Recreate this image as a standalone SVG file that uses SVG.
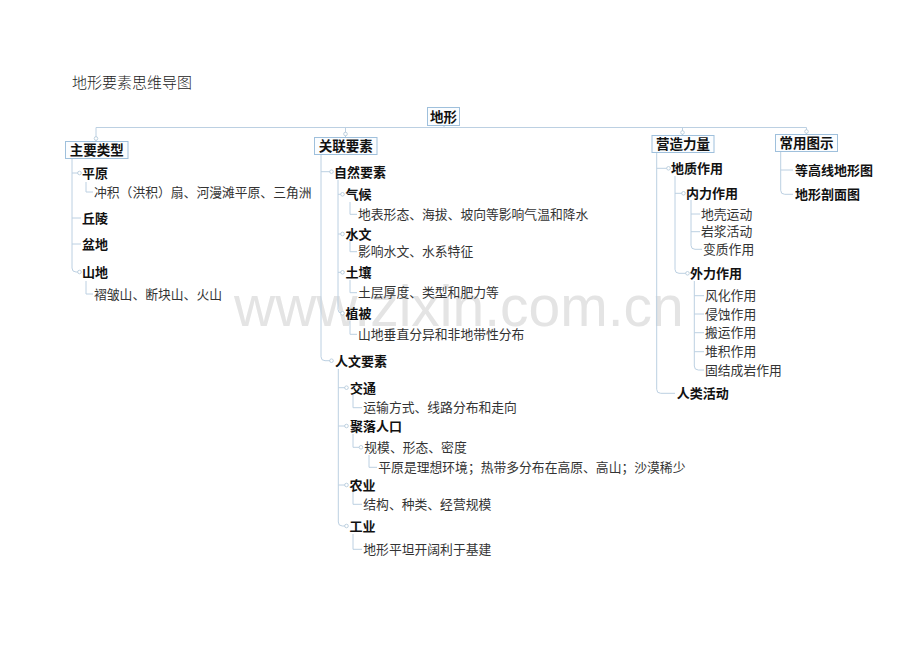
<svg xmlns="http://www.w3.org/2000/svg" width="920" height="652" viewBox="0 0 920 652">
<style>
text{font-family:"Noto Sans CJK SC","Noto Sans",sans-serif;}
.t{font-size:15px;font-weight:300;fill:#222;}
.wm{font-family:"Liberation Sans",Arial,sans-serif;font-size:57px;fill:#e4e4e4;}
.bx{fill:#fbfdff;stroke:#9fc0dc;stroke-width:1;}
.bl{font-size:13.5px;font-weight:bold;fill:#111;text-anchor:middle;}
.b{font-size:13px;font-weight:bold;fill:#111;}
.r{font-size:12.8px;fill:#333;}
.c path,.c line{fill:none;stroke:#bcd0e2;stroke-width:1;}
.c circle{fill:#fff;stroke:#b0c6d8;stroke-width:0.8;}
</style>
<rect width="920" height="652" fill="#fff"/>
<text class="wm" x="234" y="326">www.zixin.com.cn</text>
<text class="t" x="72" y="88">地形要素思维导图</text>

<g id="connectors" class="c">
<!-- main -->
<path d="M444,125.5V127.5M96,127.5H806.5"/>
<path d="M96,127.5V141M345.5,127.5V137M682.5,127.5V135M806.5,127.5V134"/>
<circle cx="96" cy="138.5" r="1.8"/>
<circle cx="345.5" cy="134" r="1.8"/>
<circle cx="682.5" cy="132.5" r="1.8"/>
<circle cx="806.5" cy="131.5" r="1.8"/>
<!-- branch 1 -->
<path d="M72,158.5V268Q72,272 76,272H79"/>
<path d="M72,173H78M72,218H81M72,244H81"/>
<circle cx="79.5" cy="173" r="1.8"/>
<circle cx="79.5" cy="272" r="1.8"/>
<path d="M86,182V192H93M86,281V294H93"/>
<!-- branch 2 -->
<path d="M321,154.5V356.7Q321,360.7 325,360.7H330"/>
<path d="M321,171.7H330"/>
<circle cx="331.5" cy="171.7" r="1.8"/>
<circle cx="331.5" cy="360.7" r="1.8"/>
<path d="M338,180V309.3Q338,313.3 342,313.3"/>
<path d="M338,194.3H341M338,234H341M338,272.3H341"/>
<circle cx="342.5" cy="194.3" r="1.8"/>
<circle cx="342.5" cy="234" r="1.8"/>
<circle cx="342.5" cy="272.3" r="1.8"/>
<circle cx="342.5" cy="313.3" r="1.8"/>
<path d="M350,202V214.3H357M350,241V251.7H357M350,280V292.7H357M350,321V334.3H357"/>
<path d="M338.3,369V522Q338.3,526 342.3,526H345"/>
<path d="M338.3,387.7H345M338.3,426H345M338.3,485H345"/>
<circle cx="346.5" cy="387.7" r="1.8"/>
<circle cx="346.5" cy="426" r="1.8"/>
<circle cx="346.5" cy="485" r="1.8"/>
<circle cx="346.5" cy="526" r="1.8"/>
<path d="M353,395V407.7H362M353,434V447.3H359M369,455V467.3H377M353,492V504.3H362M353,534V549.3H362"/>
<circle cx="361" cy="447.3" r="1.8"/>
<!-- branch 3 -->
<path d="M656.7,152.5V389.3Q656.7,393.3 660.7,393.3H675"/>
<path d="M656.7,168.3H667"/>
<circle cx="668.5" cy="168.3" r="1.8"/>
<path d="M675,176V269.3Q675,273.3 679,273.3H686"/>
<path d="M675,193.3H682"/>
<circle cx="683.5" cy="193.3" r="1.8"/>
<circle cx="687.5" cy="273.3" r="1.8"/>
<path d="M691,200V245.3Q691,249.3 695,249.3H702M691,214H700M691,231.7H700"/>
<path d="M694.3,281V366Q694.3,370 698.3,370H704M694.3,295.7H704M694.3,314H704M694.3,332.7H704M694.3,351.7H704"/>
<!-- branch 4 -->
<path d="M780.7,151.5V190.3Q780.7,194.3 784.7,194.3H793M780.7,170H793"/>
</g>

<g id="root"><rect class="bx" x="427.5" y="107.5" width="32" height="18"/><text class="bl" x="443.5" y="121.5">地形</text></g>

<g id="n-zhuyao"><rect class="bx" x="65.5" y="141.5" width="62.5" height="17"/><text class="bl" x="96.8" y="155">主要类型</text></g>
<g id="n-pingyuan"><text class="b" x="82" y="178">平原</text></g>
<g id="n-pingyuan-d"><text class="r" x="94" y="196.5">冲积（洪积）扇、河漫滩平原、三角洲</text></g>
<g id="n-qiuling"><text class="b" x="82" y="223">丘陵</text></g>
<g id="n-pendi"><text class="b" x="82" y="249">盆地</text></g>
<g id="n-shandi"><text class="b" x="82" y="277">山地</text></g>
<g id="n-shandi-d"><text class="r" x="94" y="298.5">褶皱山、断块山、火山</text></g>

<g id="n-guanlian"><rect class="bx" x="314.5" y="137.5" width="62.5" height="17"/><text class="bl" x="345.8" y="151">关联要素</text></g>
<g id="n-ziran"><text class="b" x="334" y="176.5">自然要素</text></g>
<g id="n-qihou"><text class="b" x="345.5" y="199">气候</text></g>
<g id="n-qihou-d"><text class="r" x="358" y="218.8">地表形态、海拔、坡向等影响气温和降水</text></g>
<g id="n-shuiwen"><text class="b" x="345.5" y="238.8">水文</text></g>
<g id="n-shuiwen-d"><text class="r" x="358" y="256.2">影响水文、水系特征</text></g>
<g id="n-turang"><text class="b" x="345.5" y="277">土壤</text></g>
<g id="n-turang-d"><text class="r" x="358" y="297.2">土层厚度、类型和肥力等</text></g>
<g id="n-zhibei"><text class="b" x="345.5" y="318">植被</text></g>
<g id="n-zhibei-d"><text class="r" x="358" y="338.8">山地垂直分异和非地带性分布</text></g>
<g id="n-renwen"><text class="b" x="335" y="365.5">人文要素</text></g>
<g id="n-jiaotong"><text class="b" x="350" y="392.5">交通</text></g>
<g id="n-jiaotong-d"><text class="r" x="363.3" y="412.2">运输方式、线路分布和走向</text></g>
<g id="n-juluo"><text class="b" x="350" y="430.8">聚落人口</text></g>
<g id="n-juluo-d"><text class="r" x="364.3" y="451.8">规模、形态、密度</text></g>
<g id="n-juluo-dd"><text class="r" x="378.3" y="471.8">平原是理想环境；热带多分布在高原、高山；沙漠稀少</text></g>
<g id="n-nongye"><text class="b" x="349.5" y="489.8">农业</text></g>
<g id="n-nongye-d"><text class="r" x="363.3" y="508.8">结构、种类、经营规模</text></g>
<g id="n-gongye"><text class="b" x="349.5" y="530.8">工业</text></g>
<g id="n-gongye-d"><text class="r" x="363.3" y="553.8">地形平坦开阔利于基建</text></g>

<g id="n-yingzao"><rect class="bx" x="652" y="135.5" width="62" height="17"/><text class="bl" x="683" y="149">营造力量</text></g>
<g id="n-dizhi"><text class="b" x="671" y="173">地质作用</text></g>
<g id="n-neili"><text class="b" x="686" y="198">内力作用</text></g>
<g id="n-neili-1"><text class="r" x="701" y="218.5">地壳运动</text></g>
<g id="n-neili-2"><text class="r" x="701" y="236.2">岩浆活动</text></g>
<g id="n-neili-3"><text class="r" x="703" y="253.8">变质作用</text></g>
<g id="n-waili"><text class="b" x="690" y="278">外力作用</text></g>
<g id="n-waili-1"><text class="r" x="705" y="300.2">风化作用</text></g>
<g id="n-waili-2"><text class="r" x="705" y="318.5">侵蚀作用</text></g>
<g id="n-waili-3"><text class="r" x="705" y="337.2">搬运作用</text></g>
<g id="n-waili-4"><text class="r" x="705" y="356.2">堆积作用</text></g>
<g id="n-waili-5"><text class="r" x="705" y="374.5">固结成岩作用</text></g>
<g id="n-renlei"><text class="b" x="676.7" y="398">人类活动</text></g>

<g id="n-changyong"><rect class="bx" x="775.5" y="134.5" width="62" height="17"/><text class="bl" x="806.5" y="148">常用图示</text></g>
<g id="n-denggao"><text class="b" x="795" y="174.8">等高线地形图</text></g>
<g id="n-poumian"><text class="b" x="795" y="199">地形剖面图</text></g>
</svg>
